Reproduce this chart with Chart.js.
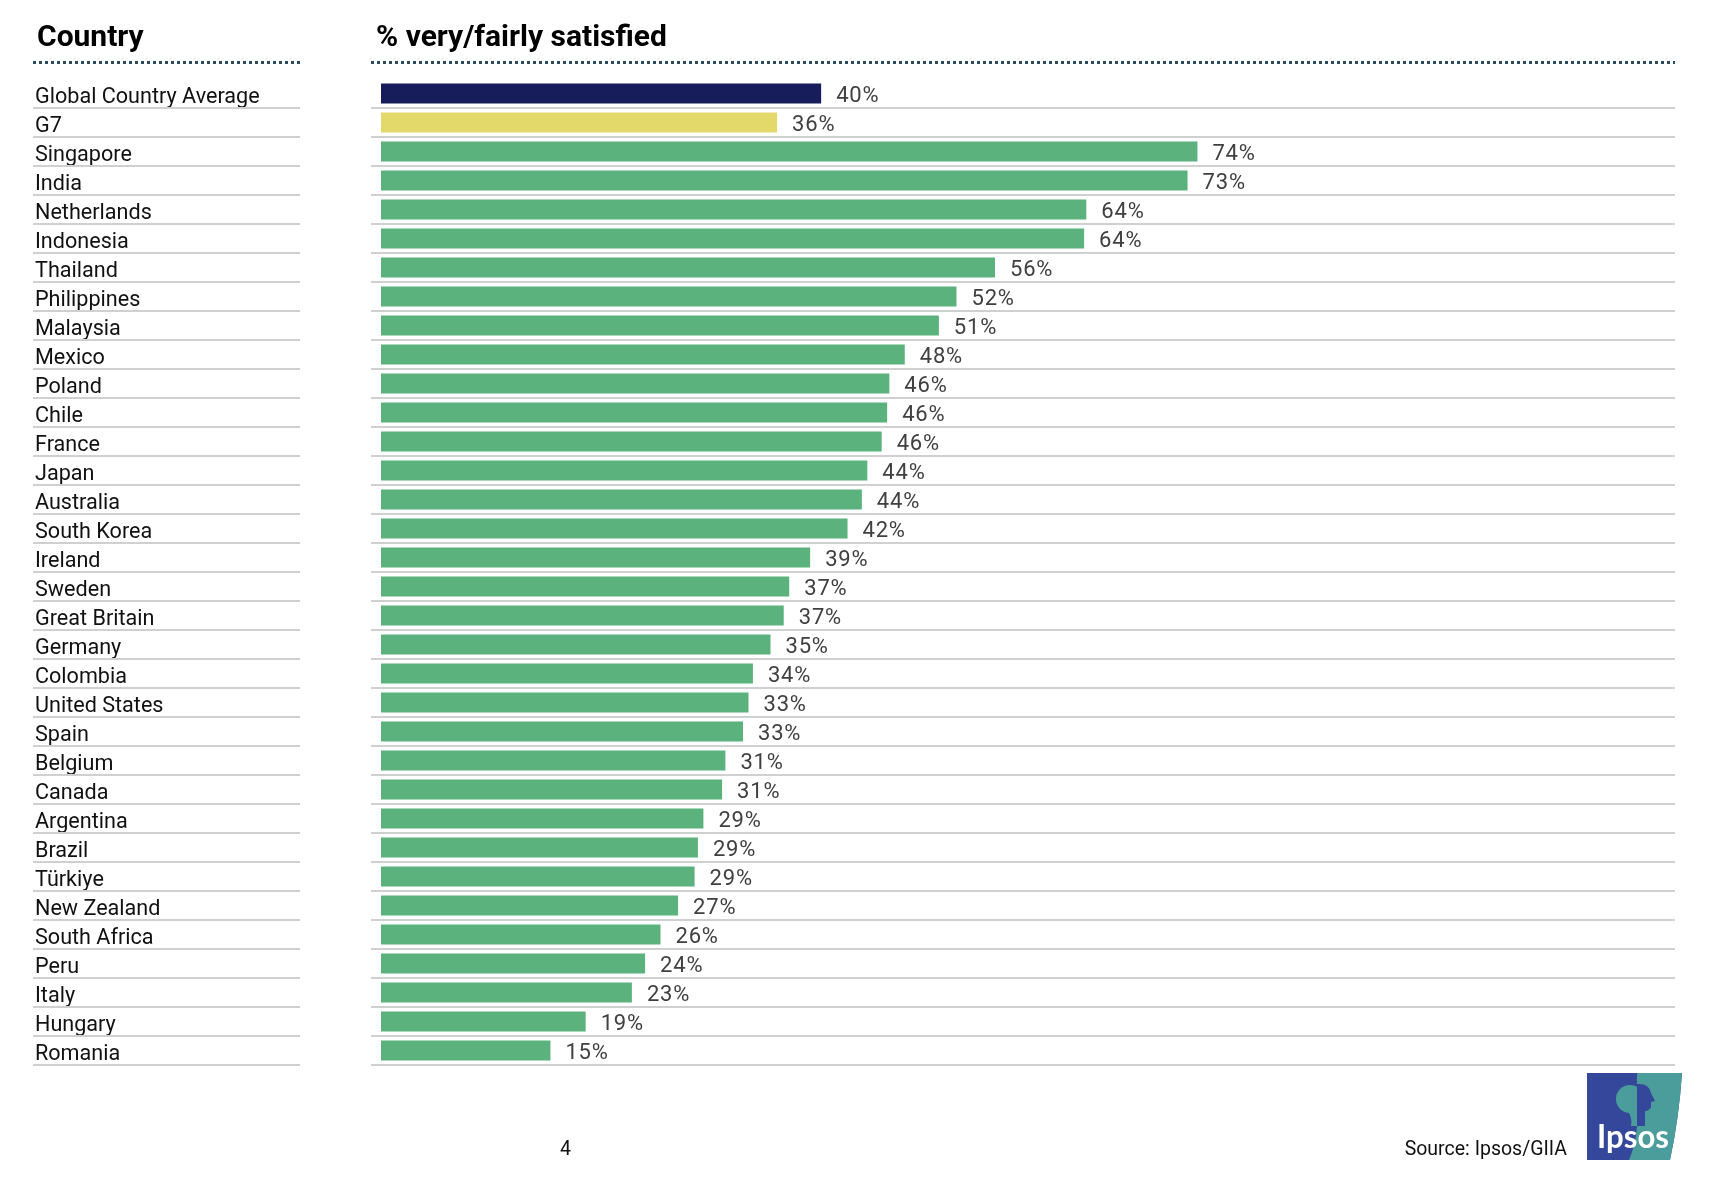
<!DOCTYPE html>
<html>
<head>
<meta charset="utf-8">
<script src="https://cdn.jsdelivr.net/npm/chart.js@4/dist/chart.umd.min.js"></script>
<style>
  html, body { margin: 0; padding: 0; background: #ffffff; }
  body { width: 1730px; height: 1184px; position: relative; overflow: hidden; font-family: Roboto, "Noto Sans", sans-serif; }
  #wrap { position: absolute; left: 0; top: 0; width: 1730px; height: 1184px; }
  .hdr { position: absolute; font-weight: 700; font-size: 30px; line-height: 30px; color: #000; white-space: nowrap; }
  .dots { position: absolute; height: 3px; background: repeating-linear-gradient(to right, #2b4a5c 0 3px, transparent 3px 6px); }
  .foot { position: absolute; font-size: 19.5px; line-height: 20px; color: #111; white-space: nowrap; }
  #logo { position: absolute; left: 1587px; top: 1073px; }
</style>
</head>
<body>
<div id="wrap"><canvas id="c" width="1730" height="1184"></canvas></div>
<div class="hdr" style="left:37px; top:21px;">Country</div>
<div class="hdr" style="left:376px; top:21px;">% very/fairly satisfied</div>
<div class="dots" style="left:33px; top:61px; width:267px;"></div>
<div class="dots" style="left:371px; top:61px; width:1304px;"></div>
<div class="foot" style="left:560px; top:1139px;">4</div>
<div class="foot" style="right:163px; top:1139px;">Source: Ipsos/GIIA</div>
<svg id="logo" width="96" height="88" viewBox="0 0 96 88">
  <defs>
    <clipPath id="leftc"><rect x="0" y="0" width="50" height="88"/></clipPath>
    <clipPath id="rightc"><rect x="50" y="0" width="46" height="88"/></clipPath>
  </defs>
  <path d="M0,0 L95,0 Q92,45 83,87 L0,87 Z" fill="#34479a"/>
  <path d="M50,0 L95,0 Q92,45 83,87 L42,87 Q49,70 50,53 Z" fill="#4a9d9a"/>
  <g clip-path="url(#leftc)">
    <circle cx="43" cy="26" r="14" fill="#4a9d9a"/>
    <path d="M40,36 L50,36 L50,53 L44,53 Q46,46 40,36 Z" fill="#4a9d9a"/>
  </g>
  <g clip-path="url(#rightc)">
    <path d="M50,11 Q62,10 64,20 L68,28 L64,29 L64,34 Q62,38 58,38 L58,53 L50,53 Z" fill="#34479a"/>
  </g>
  <text x="10" y="75" fill="#ffffff" font-family="Lato, 'Open Sans', sans-serif" font-weight="700" font-size="32" textLength="72" lengthAdjust="spacingAndGlyphs">Ipsos</text>
</svg>
<script>
const categories = ["Global Country Average","G7","Singapore","India","Netherlands","Indonesia","Thailand","Philippines","Malaysia","Mexico","Poland","Chile","France","Japan","Australia","South Korea","Ireland","Sweden","Great Britain","Germany","Colombia","United States","Spain","Belgium","Canada","Argentina","Brazil","Türkiye","New Zealand","South Africa","Peru","Italy","Hungary","Romania"];
const satisfied = [40.0,36.0,74.2,73.3,64.1,63.9,55.8,52.3,50.7,47.6,46.2,46.0,45.5,44.2,43.7,42.4,39.0,37.1,36.6,35.4,33.8,33.4,32.9,31.3,31.0,29.3,28.8,28.5,27.0,25.4,24.0,22.8,18.6,15.4];
const valueLabels = ["40%","36%","74%","73%","64%","64%","56%","52%","51%","48%","46%","46%","46%","44%","44%","42%","39%","37%","37%","35%","34%","33%","33%","31%","31%","29%","29%","29%","27%","26%","24%","23%","19%","15%"];
const barColors = categories.map((c, i) => i === 0 ? "#171c5a" : (i === 1 ? "#e2d96a" : "#5bb27c"));

const rowLines = {
  id: 'rowLines',
  beforeDatasetsDraw(chart) {
    const ctx = chart.ctx, ca = chart.chartArea, y = chart.scales.y;
    const n = categories.length;
    const pitch = (ca.bottom - ca.top) / n;
    ctx.save();
    ctx.strokeStyle = '#d0d0d0';
    ctx.lineWidth = 2;
    for (let i = 0; i < n; i++) {
      const yy = Math.round(y.getPixelForValue(i) + pitch / 2);
      ctx.beginPath();
      ctx.moveTo(33, yy); ctx.lineTo(300, yy);
      ctx.moveTo(ca.left - 10, yy); ctx.lineTo(ca.right, yy);
      ctx.stroke();
    }
    ctx.restore();
  }
};
const barValues = {
  id: 'barValues',
  afterDatasetsDraw(chart) {
    const ctx = chart.ctx;
    const meta = chart.getDatasetMeta(0);
    ctx.save();
    ctx.font = '400 22px Roboto';
    try { ctx.letterSpacing = '0.8px'; } catch (e) {}
    ctx.fillStyle = '#404040';
    ctx.textAlign = 'left';
    ctx.textBaseline = 'middle';
    meta.data.forEach((bar, i) => {
      ctx.fillText(valueLabels[i], bar.x + 15, bar.y + 3);
    });
    ctx.restore();
  }
};

function makeChart() {
  new Chart(document.getElementById('c'), {
    type: 'bar',
    data: {
      labels: categories,
      datasets: [{
        data: satisfied,
        backgroundColor: barColors,
        borderWidth: 0,
        categoryPercentage: 1,
        barPercentage: 0.69
      }]
    },
    options: {
      indexAxis: 'y',
      responsive: false,
      animation: false,
      devicePixelRatio: 1,
      layout: { padding: { left: 35, right: 55, top: 79, bottom: 119 } },
      plugins: { legend: { display: false }, tooltip: { enabled: false } },
      scales: {
        x: { display: false, min: 0, max: 117.6 },
        y: {
          grid: { display: false },
          border: { display: false },
          afterFit(scale) { scale.width = 346; },
          ticks: {
            autoSkip: false,
            crossAlign: 'far',
            padding: 0,
            labelOffset: 4,
            color: '#111111',
            font: { family: 'Roboto', size: 21.6, weight: '400' }
          }
        }
      }
    },
    plugins: [rowLines, barValues]
  });
}
Promise.all([
  document.fonts.load('400 21px Roboto'),
  document.fonts.load('700 30px Roboto'),
  document.fonts.load('700 31px Lato')
]).then(makeChart, makeChart);
</script>
</body>
</html>
